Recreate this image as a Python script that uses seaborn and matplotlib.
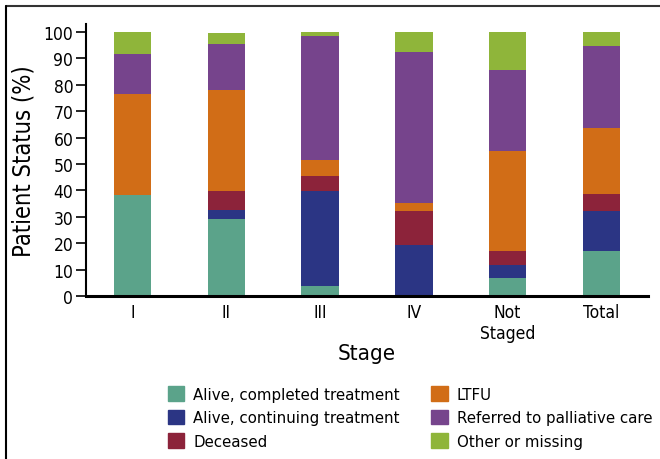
import numpy as np
import pandas as pd
import matplotlib
matplotlib.use("Agg")
import matplotlib.pyplot as plt
import matplotlib.patches as mpatches
from matplotlib.lines import Line2D
import seaborn as sns

# stage categories and status percentages (bottom to top of each bar)
stages = ["I", "II", "III", "IV", "Not\nStaged", "Total"]
statuses = ["Alive, completed treatment", "Alive, continuing treatment", "Deceased",
            "LTFU", "Referred to palliative care", "Other or missing"]

completed = [38.3, 29.1, 3.9, 0.0, 6.8, 17.0]
continuing = [0.0, 3.6, 35.7, 19.3, 5.0, 15.1]
deceased = [0.0, 7.1, 6.0, 13.0, 5.2, 6.7]
ltfu = [38.1, 38.2, 6.0, 3.0, 37.9, 24.8]
palliative = [15.3, 17.5, 46.9, 57.2, 30.8, 31.1]
other = [8.3, 4.1, 1.5, 7.5, 14.3, 5.3]

colors = ["#5BA38A", "#2B3584", "#8C233A", "#D16D17", "#76448C", "#8FB53A"]

df = pd.DataFrame({"stage": stages, statuses[0]: completed, statuses[1]: continuing,
                   statuses[2]: deceased, statuses[3]: ltfu, statuses[4]: palliative,
                   statuses[5]: other})

sns.set_style("white")
plt.rcParams["font.family"] = ["DejaVu Sans"]
plt.rcParams["font.stretch"] = "condensed"
for k in ["text.color", "axes.labelcolor", "xtick.color", "ytick.color"]:
    plt.rcParams[k] = "black"

fig = plt.figure(figsize=(6.6, 4.6), dpi=100)
ax = fig.add_axes([0.130, 0.354, 0.852, 0.592])

# stack the layers one by one
bottom = np.zeros(len(stages))
for status, c in zip(statuses, colors):
    sns.barplot(data=df, x="stage", y=status, color=c, bottom=bottom,
                width=0.4, saturation=1, linewidth=0, ax=ax)
    bottom = bottom + df[status].values

ax.set_xlim(-0.5, 5.5)
ax.set_ylim(0, 103)
ax.set_yticks(range(0, 101, 10))
ax.set_xlabel("Stage", fontsize=16, labelpad=1)
ax.set_ylabel("Patient Status (%)", fontsize=17, labelpad=6)
ax.tick_params(axis="y", labelsize=12.5, length=7, width=1.2, direction="out", left=True, pad=2)
ax.tick_params(axis="x", labelsize=12.5, length=0, pad=5)
for s in ["top", "right"]:
    ax.spines[s].set_visible(False)
ax.spines["left"].set_linewidth(1.5)
ax.spines["bottom"].set_linewidth(2.2)
ax.spines["left"].set_color("black")
ax.spines["bottom"].set_color("black")

handles = [mpatches.Patch(color=c, label=s) for s, c in zip(statuses, colors)]
fig.legend(handles=handles, loc="upper left", bbox_to_anchor=(0.245, 0.171), ncol=2,
           frameon=False, prop={"family": "DejaVu Sans", "stretch": "normal", "size": 10.8},
           handlelength=1.1, handleheight=1.1, handletextpad=0.6,
           columnspacing=2.1, labelspacing=0.55, borderaxespad=0)

# frame lines on top and left of the figure
fig.add_artist(Line2D([6 / 660, 1], [1 - 7 / 460, 1 - 7 / 460], color="#333333", lw=1.5))
fig.add_artist(Line2D([6 / 660, 6 / 660], [0, 1 - 7 / 460], color="black", lw=1.5))

fig.savefig("out.png", dpi=100)
